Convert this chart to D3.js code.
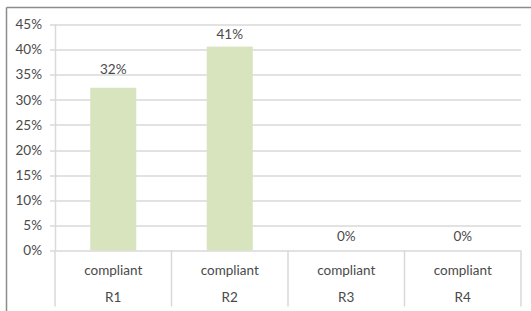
<!DOCTYPE html>
<html>
<head>
<meta charset="utf-8">
<script src="https://cdn.jsdelivr.net/npm/d3@7"></script>
<style>
  html, body { margin: 0; padding: 0; background: #fff; }
  svg text { font-family: Lato, "Open Sans", sans-serif; fill: #4a4a4a; font-size: 13.5px; }
</style>
</head>
<body>
<div id="chart"></div>
<script>
const groups = ['R1', 'R2', 'R3', 'R4'];
const subLabels = ['compliant', 'compliant', 'compliant', 'compliant'];
const values = [0.324, 0.406, 0, 0];
const valueLabels = ['32%', '41%', '0%', '0%'];
const yTicks = [0, 0.05, 0.1, 0.15, 0.2, 0.25, 0.3, 0.35, 0.4, 0.45];

const width = 531, height = 311;
const margin = { top: 24.5, right: 10, bottom: 60.5, left: 55 };
const innerW = width - margin.left - margin.right;
const innerH = height - margin.top - margin.bottom;

// data labels in the original sit at slightly different heights above the bars
const labelGap = [19, 12, 14, 14];

const svg = d3.select('#chart').append('svg')
  .attr('width', width)
  .attr('height', height);

// outer frame (top + left only visible)
svg.append('line')
  .attr('x1', 6.5).attr('y1', 7.5).attr('x2', width).attr('y2', 7.5)
  .attr('stroke', '#8c8c8c').attr('stroke-width', 1.5);
svg.append('line')
  .attr('x1', 6.5).attr('y1', 7.5).attr('x2', 6.5).attr('y2', height)
  .attr('stroke', '#8c8c8c').attr('stroke-width', 1.5);

const g = svg.append('g')
  .attr('transform', `translate(${margin.left},${margin.top})`);

const x = d3.scaleBand().domain(groups).range([0, innerW]).padding(0);
const y = d3.scaleLinear().domain([0, 0.45]).range([innerH, 0]);

// gridlines
g.selectAll('.grid')
  .data(yTicks)
  .enter().append('line')
  .attr('class', 'grid')
  .attr('x1', -5).attr('x2', innerW)
  .attr('y1', d => Math.round(y(d)) + 0.5)
  .attr('y2', d => Math.round(y(d)) + 0.5)
  .attr('stroke', '#d9d9d9')
  .attr('stroke-width', 1.5);

// y axis labels
g.selectAll('.ylab')
  .data(yTicks)
  .enter().append('text')
  .attr('class', 'ylab')
  .attr('x', -13)
  .attr('y', d => y(d))
  .attr('dy', '0.35em')
  .attr('text-anchor', 'end')
  .text(d => d3.format('.0%')(d));

// y axis line
g.append('line')
  .attr('x1', 0.5).attr('x2', 0.5)
  .attr('y1', 0).attr('y2', innerH)
  .attr('stroke', '#d9d9d9').attr('stroke-width', 1.5);

// category dividers
g.selectAll('.div')
  .data(groups.concat(['end']))
  .enter().append('line')
  .attr('class', 'div')
  .attr('x1', (d, i) => i < groups.length ? x(d) : innerW)
  .attr('x2', (d, i) => i < groups.length ? x(d) : innerW)
  .attr('y1', innerH).attr('y2', innerH + 56)
  .attr('stroke', '#d9d9d9').attr('stroke-width', 1.5);

// bars
const barW = x.bandwidth() * 0.395;
g.selectAll('.bar')
  .data(values)
  .enter().append('rect')
  .attr('class', 'bar')
  .attr('x', (d, i) => x(groups[i]) + (x.bandwidth() - barW) / 2)
  .attr('y', d => y(d))
  .attr('width', barW)
  .attr('height', d => innerH - y(d))
  .attr('fill', '#d7e4bd');

// value labels
g.selectAll('.vlab')
  .data(values)
  .enter().append('text')
  .attr('class', 'vlab')
  .attr('x', (d, i) => x(groups[i]) + x.bandwidth() / 2)
  .attr('y', (d, i) => y(d) - labelGap[i])
  .attr('dy', '0.35em')
  .attr('text-anchor', 'middle')
  .text((d, i) => valueLabels[i]);

// category labels
g.selectAll('.sub')
  .data(subLabels)
  .enter().append('text')
  .attr('class', 'sub')
  .attr('x', (d, i) => x(groups[i]) + x.bandwidth() / 2)
  .attr('y', innerH + 20)
  .attr('dy', '0.35em')
  .attr('text-anchor', 'middle')
  .text(d => d);

g.selectAll('.grp')
  .data(groups)
  .enter().append('text')
  .attr('class', 'grp')
  .attr('x', d => x(d) + x.bandwidth() / 2)
  .attr('y', innerH + 47)
  .attr('dy', '0.35em')
  .attr('text-anchor', 'middle')
  .text(d => d);
</script>
</body>
</html>
